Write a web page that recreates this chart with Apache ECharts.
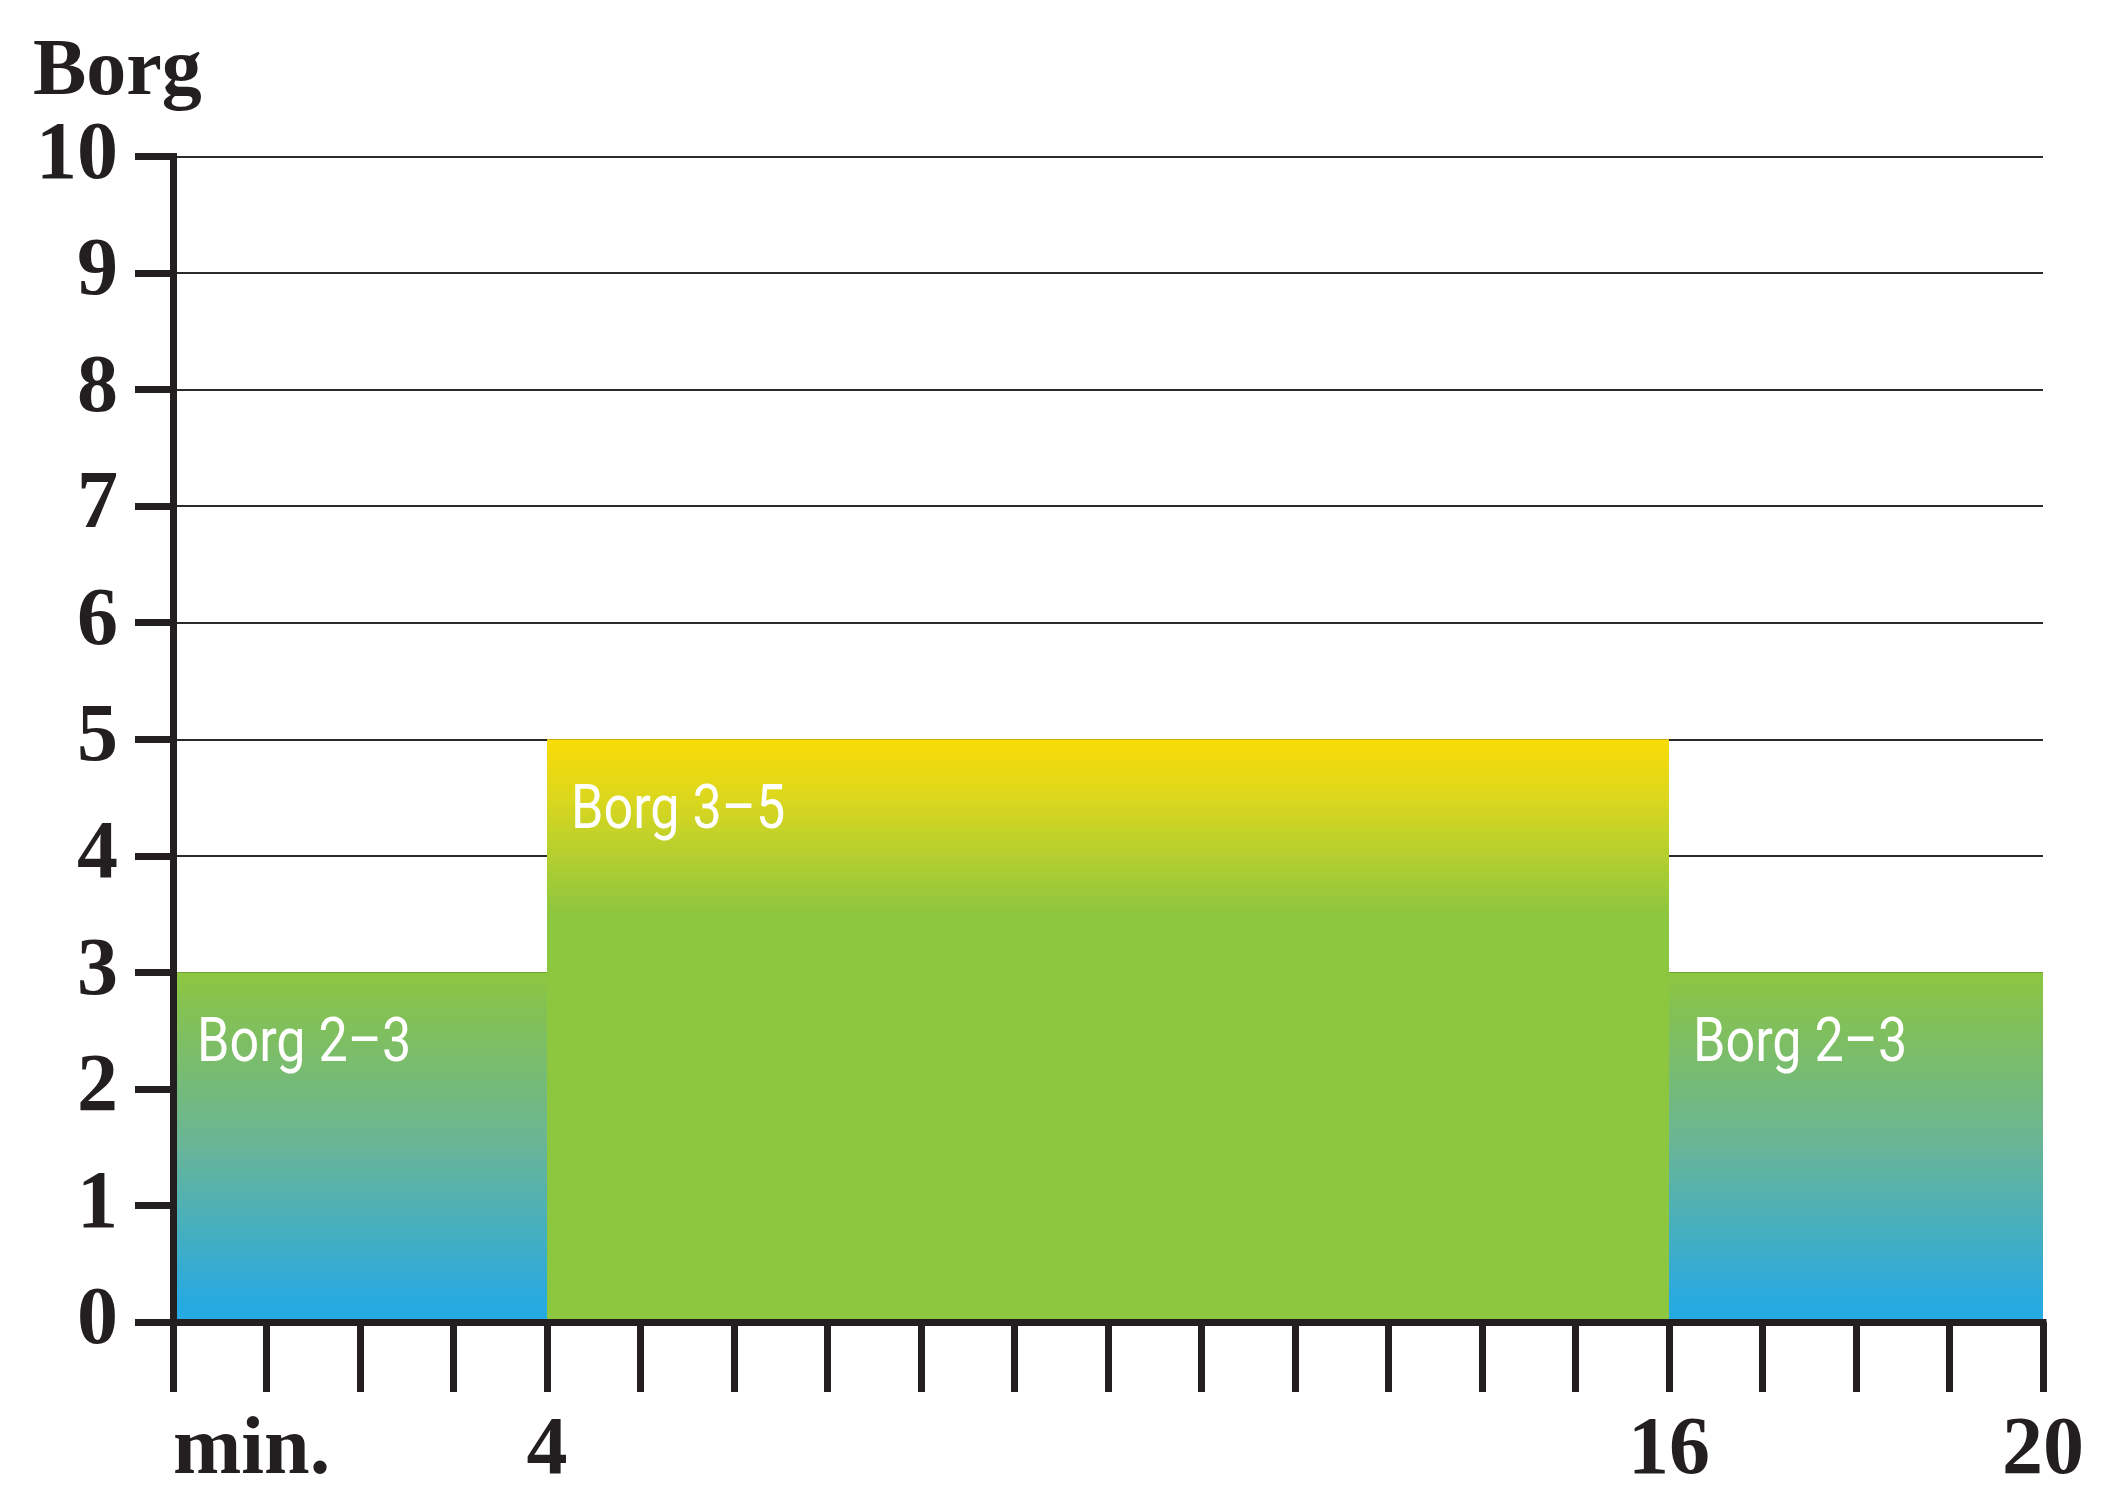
<!DOCTYPE html>
<html>
<head>
<meta charset="utf-8">
<title>Borg</title>
<script src="https://cdn.jsdelivr.net/npm/echarts@6/dist/echarts.min.js"></script>
<style>
  html, body { margin: 0; padding: 0; background: #ffffff; }
  #chart { width: 2106px; height: 1494px; }
</style>
</head>
<body>
<div id="chart"></div>
<script>
// Interval phases: start minute, end minute, Borg level reached, phase label
const phaseStart = [0, 4, 16];
const phaseEnd = [4, 16, 20];
const phaseLevel = [3, 5, 3];
const phaseLabel = ['Borg 2–3', 'Borg 3–5', 'Borg 2–3'];

// Axis ticks and the labelled minutes along the time axis
const yTicks = [0, 1, 2, 3, 4, 5, 6, 7, 8, 9, 10];
const xLabelMinutes = [0, 4, 16, 20];
const xLabelTexts = ['min.', '4', '16', '20'];
const yAxisTitle = 'Borg';

const INK = '#231f20';
const SERIF = '"Liberation Serif", "DejaVu Serif", serif';
const LABEL_FONT = '"Roboto", "Liberation Sans", sans-serif';

// Fill for a phase: the hard phase fades from yellow into green,
// the easy phases fade from green down to blue.
function phaseFill(level) {
  if (level >= 5) {
    return new echarts.graphic.LinearGradient(0, 0, 0, 1, [
      { offset: 0, color: '#f9dc06' },
      { offset: 0.1, color: '#dcd71d' },
      { offset: 0.2, color: '#b4cf2f' },
      { offset: 0.3, color: '#8dc63f' },
      { offset: 1, color: '#8dc63f' }
    ]);
  }
  return new echarts.graphic.LinearGradient(0, 0, 0, 1, [
    { offset: 0, color: '#8dc63f' },
    { offset: 0.08, color: '#86c24e' },
    { offset: 0.5, color: '#68b598' },
    { offset: 0.95, color: '#27a9e1' },
    { offset: 1, color: '#27a9e1' }
  ]);
}

const phaseData = phaseStart.map((s, i) => [s, phaseEnd[i], phaseLevel[i], phaseLabel[i]]);

const chart = echarts.init(document.getElementById('chart'), null, { renderer: 'canvas' });

const option = {
  animation: false,
  backgroundColor: '#ffffff',
  title: {
    text: yAxisTitle,
    left: 33,
    top: 33,
    padding: 0,
    textStyle: { fontFamily: SERIF, fontWeight: 'bold', fontSize: 80, color: INK }
  },
  grid: { left: 173, right: 63, top: 156.5, bottom: 172, containLabel: false },
  xAxis: {
    type: 'value',
    min: 0,
    max: 20,
    interval: 1,
    z: 5,
    splitLine: { show: false },
    axisLine: { show: true, lineStyle: { color: INK, width: 7, cap: 'square' } },
    axisTick: { show: true, length: 70, lineStyle: { color: INK, width: 7 } },
    axisLabel: {
      show: true,
      margin: 89,
      fontFamily: SERIF,
      fontWeight: 'bold',
      fontSize: 82,
      color: INK,
      showMinLabel: true,
      showMaxLabel: true,
      alignMinLabel: 'left',
      formatter: function (v) {
        const k = xLabelMinutes.indexOf(v);
        return k >= 0 ? xLabelTexts[k] : '';
      }
    }
  },
  yAxis: [
    {
      // horizontal guide lines, kept beneath the phase blocks
      type: 'value',
      min: 0,
      max: 10,
      interval: 1,
      z: 0,
      axisLine: { show: false },
      axisTick: { show: false },
      axisLabel: { show: false },
      splitLine: { show: true, lineStyle: { color: '#2b2b2b', width: 2 } }
    },
    {
      // the drawn axis with its ticks and numbers, on top of the blocks
      type: 'value',
      min: 0,
      max: 10,
      interval: 1,
      z: 5,
      position: 'left',
      splitLine: { show: false },
      axisLine: { show: true, lineStyle: { color: INK, width: 7, cap: 'square' } },
      axisTick: { show: true, length: 38, lineStyle: { color: INK, width: 7 } },
      axisLabel: {
        show: true,
        margin: 55,
        fontFamily: SERIF,
        fontWeight: 'bold',
        fontSize: 82,
        color: INK,
        formatter: function (v) {
          return yTicks.indexOf(v) >= 0 ? String(v) : '';
        }
      }
    }
  ],
  series: [
    {
      type: 'custom',
      xAxisIndex: 0,
      yAxisIndex: 0,
      z: 2,
      data: phaseData,
      encode: { x: [0, 1], y: 2 },
      renderItem: function (params, api) {
        const x0 = api.value(0);
        const x1 = api.value(1);
        const lvl = api.value(2);
        const topLeft = api.coord([x0, lvl]);
        const bottomRight = api.coord([x1, 0]);
        return {
          type: 'group',
          children: [
            {
              type: 'rect',
              shape: {
                x: topLeft[0],
                y: topLeft[1],
                width: bottomRight[0] - topLeft[0],
                height: bottomRight[1] - topLeft[1]
              },
              style: { fill: phaseFill(lvl) }
            },
            {
              // condensed white caption in the block's upper left corner
              type: 'text',
              x: topLeft[0] + 24,
              y: topLeft[1] + 42,
              scaleX: 0.84,
              style: {
                text: phaseData[params.dataIndex][3],
                fill: '#ffffff',
                font: '62px ' + LABEL_FONT,
                verticalAlign: 'top',
                align: 'left'
              }
            }
          ]
        };
      }
    }
  ]
};

chart.setOption(option);
</script>
</body>
</html>
